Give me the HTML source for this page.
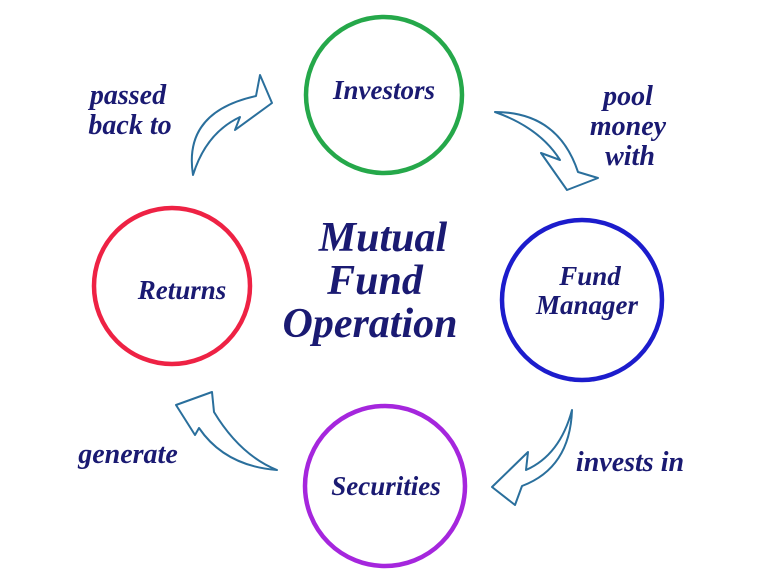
<!DOCTYPE html>
<html><head><meta charset="utf-8"><style>
html,body{margin:0;padding:0;background:#fff;}
svg{display:block}
text{font-family:"Liberation Serif",serif;font-style:italic;font-weight:bold;fill:#1a1a72;}
</style></head><body>
<svg width="768" height="576" viewBox="0 0 768 576">
<g fill="none" stroke-width="4.5">
<circle cx="384" cy="95" r="78" stroke="#25a84a"/>
<circle cx="582" cy="300" r="80" stroke="#1c1ccc"/>
<circle cx="385" cy="486" r="80" stroke="#a526dd"/>
<circle cx="172" cy="286" r="78" stroke="#ee2244"/>
</g>
<g fill="#fff" stroke="#2a6f9c" stroke-width="2" stroke-linejoin="round">
<path d="M495,112 Q558,112 578,172 L598,178 L567,190 L541,153 L560,160 Q540,128 495,112 Z"/>
<path d="M572,410 Q570,468 522,486 L515,505 L492,487 L528,452 L526,470 Q560,455 572,410 Z"/>
<path d="M277,470 Q225,466 199,428 L195,435 L176,405 L212,392 L214,412 Q240,455 277,470 Z"/>
<path d="M193,175 Q183,112 256,96 L260,75 L272,103 L235,130 L240,117 Q206,133 193,175 Z"/>
</g>
<text x="384" y="99" font-size="27" text-anchor="middle">Investors</text>
<text x="590" y="285" font-size="27" text-anchor="middle">Fund</text>
<text x="587" y="314" font-size="27" text-anchor="middle">Manager</text>
<text x="386" y="495" font-size="27" text-anchor="middle">Securities</text>
<text x="182" y="299" font-size="27" text-anchor="middle">Returns</text>
<text x="383" y="251" font-size="42" text-anchor="middle">Mutual</text>
<text x="375" y="294" font-size="42" text-anchor="middle">Fund</text>
<text x="370" y="337" font-size="42" text-anchor="middle">Operation</text>
<text x="128" y="104" font-size="28" text-anchor="middle">passed</text>
<text x="130" y="134" font-size="28" text-anchor="middle">back to</text>
<text x="628" y="105" font-size="28" text-anchor="middle">pool</text>
<text x="628" y="135" font-size="28" text-anchor="middle">money</text>
<text x="630" y="165" font-size="28" text-anchor="middle">with</text>
<text x="630" y="471" font-size="28" text-anchor="middle">invests in</text>
<text x="128" y="463" font-size="28" text-anchor="middle">generate</text>
</svg>
</body></html>
